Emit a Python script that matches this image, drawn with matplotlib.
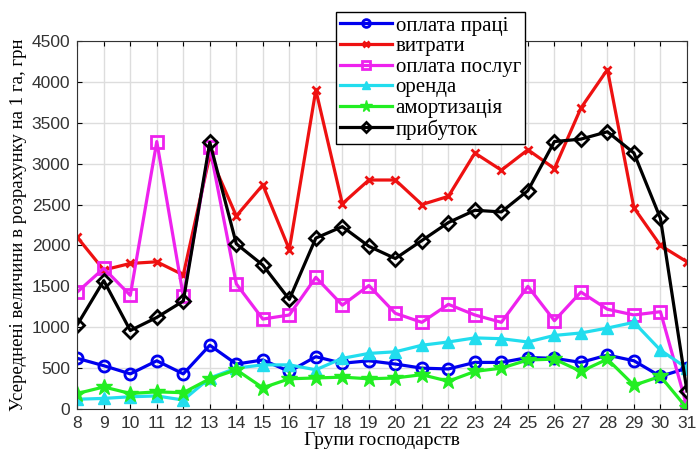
import matplotlib
matplotlib.use('Agg')
import matplotlib.pyplot as plt

# групи господарств
grupy = list(range(8, 32))

oplata_praci = [620, 530, 430, 590, 430, 780, 550, 600, 460, 640, 560, 590,
                550, 500, 490, 570, 570, 630, 620, 570, 660, 590, 400, 500]
vytraty = [2100, 1700, 1780, 1800, 1640, 3100, 2360, 2740, 1950, 3900, 2510, 2800,
           2800, 2500, 2600, 3130, 2920, 3170, 2940, 3680, 4150, 2460, 2000, 1800]
oplata_poslug = [1430, 1720, 1390, 3270, 1380, 3200, 1530, 1100, 1150, 1610, 1270, 1510,
                 1170, 1060, 1280, 1150, 1060, 1500, 1080, 1430, 1220, 1150, 1190, 30]
orenda = [120, 130, 150, 160, 110, 380, 500, 540, 540, 480, 620, 680,
          700, 780, 820, 870, 860, 820, 900, 930, 990, 1060, 720, 500]
amortyzacia = [190, 270, 190, 210, 200, 370, 480, 260, 370, 380, 390, 370,
               380, 420, 340, 460, 500, 600, 610, 460, 610, 290, 400, 10]
prybutok = [1030, 1570, 960, 1120, 1320, 3260, 2020, 1760, 1340, 2090, 2230, 1990,
            1840, 2060, 2280, 2430, 2410, 2670, 3270, 3300, 3390, 3130, 2330, 220]

fig = plt.figure(figsize=(6.96, 4.55), dpi=100)
ax = fig.add_axes([0.111, 0.101, 0.876, 0.809])

lw = 2.3
ax.plot(grupy, oplata_praci, color='#0000ee', marker='o', mfc='none', mew=2, ms=8, lw=lw, label='оплата праці')
ax.plot(grupy, vytraty, color='#ee1111', marker='x', mew=2, ms=6, lw=lw, label='витрати')
ax.plot(grupy, oplata_poslug, color='#ee22ee', marker='s', mfc='none', mew=2, ms=8, lw=lw, label='оплата послуг')
ax.plot(grupy, orenda, color='#22ddee', marker='^', ms=9, lw=lw, label='оренда')
ax.plot(grupy, amortyzacia, color='#22ee22', marker='*', ms=12, lw=lw, label='амортизація')
ax.plot(grupy, prybutok, color='black', marker='D', mfc='none', mew=2, ms=7, lw=lw, label='прибуток')

ax.set_xlim(8, 31)
ax.set_ylim(0, 4500)
ax.set_xticks(grupy)
ax.set_yticks(range(0, 4501, 500))
ax.grid(True, color='#dddddd', lw=1)
ax.tick_params(direction='in', top=True, right=True, labelsize=12.5, pad=5)
for t in ax.get_xticklabels() + ax.get_yticklabels():
    t.set_family('Liberation Sans')
    t.set_color('#333333')
for s in ax.spines.values():
    s.set_color('#333333')

ax.set_xlabel('Групи господарств', family='Liberation Serif', fontsize=14, labelpad=1)
ax.set_ylabel('Усереднені величини в розрахунку на 1 га, грн', family='Liberation Serif',
              fontsize=13.5, labelpad=3)

leg = ax.legend(loc='upper left', bbox_to_anchor=(0.483, 0.974), bbox_transform=fig.transFigure,
                prop={'family': 'Liberation Serif', 'size': 15}, fancybox=False, edgecolor='black',
                framealpha=1, handlelength=2.5, handletextpad=0.15, borderpad=0.2,
                labelspacing=0.05, markerscale=0.7, borderaxespad=0)
leg.get_frame().set_linewidth(1)

fig.savefig('out.png', dpi=100)
